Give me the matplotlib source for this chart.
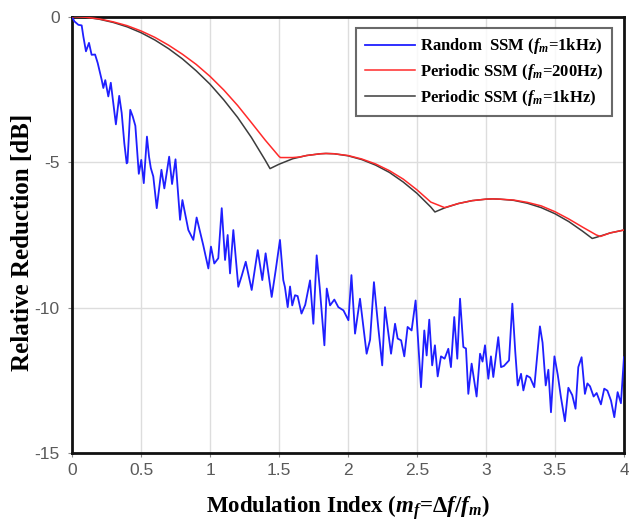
import matplotlib
matplotlib.use("Agg")
import matplotlib.pyplot as plt

plt.rcParams['font.family'] = ['Liberation Sans', 'DejaVu Sans']
plt.rcParams['mathtext.fontset'] = 'custom'
plt.rcParams['mathtext.rm'] = 'Liberation Serif:bold'
plt.rcParams['mathtext.it'] = 'Liberation Serif:italic:bold'
plt.rcParams['mathtext.bf'] = 'Liberation Serif:bold'

# Periodic SSM (fm = 1 kHz) -- black
black_x = [0.0, 0.1, 0.2, 0.3, 0.4, 0.5, 0.6, 0.7, 0.8, 0.9, 1.0, 1.1, 1.2, 1.3, 1.4, 1.435,
           1.5, 1.6, 1.7, 1.8, 1.84, 1.9, 2.0, 2.1, 2.2, 2.3, 2.4, 2.5, 2.6, 2.63,
           2.7, 2.8, 2.9, 3.0, 3.05, 3.1, 3.2, 3.3, 3.4, 3.5, 3.6, 3.7, 3.77, 3.8, 3.9, 4.0]
black_y = [0.0, -0.02, -0.09, -0.20, -0.35, -0.55, -0.80, -1.10, -1.45, -1.86, -2.32, -2.86, -3.46, -4.15, -4.93, -5.22,
           -5.07, -4.88, -4.77, -4.71, -4.70, -4.71, -4.78, -4.91, -5.10, -5.35, -5.68, -6.07, -6.54, -6.71,
           -6.57, -6.42, -6.32, -6.27, -6.26, -6.27, -6.31, -6.41, -6.56, -6.77, -7.04, -7.37, -7.62, -7.58, -7.43, -7.33]

# Periodic SSM (fm = 200 Hz) -- red
red_x = [0.0, 0.1, 0.2, 0.3, 0.4, 0.5, 0.6, 0.7, 0.8, 0.9, 1.0, 1.1, 1.2, 1.3, 1.4, 1.5, 1.51,
         1.6, 1.65, 1.7, 1.8, 1.84, 1.9, 2.0, 2.1, 2.2, 2.3, 2.4, 2.5, 2.6, 2.7,
         2.8, 2.9, 3.0, 3.05, 3.1, 3.2, 3.3, 3.4, 3.5, 3.6, 3.7, 3.8, 3.83, 3.9, 4.0]
red_y = [0.0, -0.02, -0.08, -0.18, -0.31, -0.49, -0.71, -0.98, -1.29, -1.64, -2.05, -2.52, -3.05, -3.64, -4.24, -4.80, -4.84,
         -4.84, -4.82, -4.77, -4.71, -4.70, -4.71, -4.77, -4.89, -5.06, -5.29, -5.58, -5.95, -6.37, -6.56,
         -6.42, -6.32, -6.27, -6.26, -6.27, -6.30, -6.38, -6.50, -6.70, -6.95, -7.23, -7.50, -7.55, -7.43, -7.33]

# Random SSM (fm = 1 kHz) -- blue
blue_x = [0.0, 0.017, 0.046, 0.07, 0.082, 0.101, 0.123, 0.142, 0.167, 0.186, 0.215, 0.227, 0.241, 0.263, 0.281,
          0.299, 0.318, 0.342, 0.360, 0.379, 0.396, 0.402, 0.422, 0.440, 0.459, 0.484, 0.502, 0.520, 0.543,
          0.558, 0.571, 0.589, 0.614, 0.648, 0.669, 0.704, 0.725, 0.750, 0.783, 0.80, 0.843, 0.879, 0.903,
          0.951, 0.988, 1.007, 1.031, 1.06, 1.085, 1.109, 1.128, 1.145, 1.169, 1.205, 1.23, 1.259, 1.302,
          1.346, 1.379, 1.403, 1.447, 1.476, 1.507, 1.531, 1.543, 1.563, 1.580, 1.596, 1.616, 1.635, 1.663,
          1.690, 1.725, 1.749, 1.773, 1.795, 1.829, 1.846, 1.870, 1.901, 1.930, 1.967, 2.003, 2.025, 2.051,
          2.087, 2.135, 2.160, 2.188, 2.219, 2.248, 2.268, 2.312, 2.341, 2.360, 2.385, 2.408, 2.432, 2.461,
          2.490, 2.529, 2.553, 2.570, 2.589, 2.610, 2.630, 2.650, 2.674, 2.70, 2.727, 2.746, 2.770, 2.792,
          2.812, 2.836, 2.855, 2.872, 2.896, 2.932, 2.957, 2.975, 2.993, 3.017, 3.036, 3.053, 3.089, 3.109,
          3.13, 3.167, 3.191, 3.212, 3.230, 3.254, 3.271, 3.295, 3.32, 3.350, 3.391, 3.41, 3.433, 3.452,
          3.471, 3.496, 3.52, 3.543, 3.572, 3.597, 3.625, 3.649, 3.669, 3.693, 3.717, 3.735, 3.754, 3.78,
          3.802, 3.833, 3.857, 3.88, 3.906, 3.930, 3.954, 3.978, 4.0]
blue_y = [0.0, -0.16, -0.28, -0.30, -0.68, -1.19, -0.90, -1.31, -1.30, -1.59, -2.17, -2.45, -2.18, -2.74, -2.27,
          -2.97, -3.70, -2.72, -3.31, -4.35, -5.04, -5.00, -3.20, -3.43, -3.75, -5.40, -4.92, -5.72, -4.12,
          -4.81, -5.20, -5.49, -6.58, -5.26, -5.90, -4.81, -5.75, -4.90, -6.98, -6.30, -7.33, -7.67, -6.90,
          -7.85, -8.65, -7.90, -8.48, -8.30, -6.58, -8.36, -7.50, -8.82, -7.33, -9.28, -8.90, -8.42, -9.39,
          -8.02, -9.05, -8.13, -9.63, -8.71, -7.67, -9.05, -9.29, -9.98, -9.27, -9.92, -9.57, -9.60, -10.20,
          -9.90, -9.06, -10.55, -8.20, -9.30, -11.29, -9.34, -9.92, -9.72, -9.98, -10.09, -10.43, -8.88, -10.89,
          -9.69, -11.58, -11.10, -9.12, -10.66, -11.98, -9.98, -11.58, -10.55, -11.06, -11.12, -11.67, -10.66, -10.78,
          -9.75, -12.73, -10.78, -11.64, -10.41, -11.98, -11.29, -12.36, -11.67, -11.75, -11.41, -12.04, -10.32, -11.75,
          -9.69, -11.35, -11.40, -12.96, -11.92, -13.05, -11.58, -11.85, -11.29, -12.44, -11.67, -12.38, -11.01, -12.04,
          -12.00, -11.81, -9.86, -11.50, -12.67, -12.27, -12.84, -12.33, -12.40, -12.73, -10.64, -11.20, -12.67, -12.13,
          -13.59, -11.67, -12.30, -13.07, -13.90, -12.75, -13.00, -13.47, -12.04, -11.70, -12.96, -12.60, -12.70, -13.05,
          -12.93, -13.32, -12.78, -12.85, -13.19, -13.76, -12.90, -13.28, -11.70]

x_ticks = [0, 0.5, 1, 1.5, 2, 2.5, 3, 3.5, 4]
x_tick_labels = ['0', '0.5', '1', '1.5', '2', '2.5', '3', '3.5', '4']
y_ticks = [0, -5, -10, -15]
y_tick_labels = ['0', '-5', '-10', '-15']

labels = ['Random  SSM ($f_m$=1kHz)', 'Periodic SSM ($f_m$=200Hz)', 'Periodic SSM ($f_m$=1kHz)']

fig = plt.figure(figsize=(6.29, 5.21), dpi=100)
ax = fig.add_axes([0.1145, 0.130, 0.8775, 0.838])

ax.plot(blue_x, blue_y, color='#1f1fff', lw=1.3, label=labels[0], zorder=3)
ax.plot(red_x, red_y, color='#ff2a2a', lw=1.1, label=labels[1], zorder=4)
ax.plot(black_x, black_y, color='#3c3c3c', lw=1.1, label=labels[2], zorder=3)

ax.set_xlim(0, 4)
ax.set_ylim(-15, 0)
ax.set_xticks(x_ticks)
ax.set_xticklabels(x_tick_labels)
ax.set_yticks(y_ticks)
ax.set_yticklabels(y_tick_labels)
ax.tick_params(axis='both', labelsize=12.5, labelcolor='#5a5a5a', color='#888888',
               direction='out', length=3, width=0.8)
ax.tick_params(axis='x', pad=4)
ax.tick_params(axis='y', pad=6)
ax.grid(True, color='#dddddd', lw=1.0)
ax.set_axisbelow(True)
for s in ax.spines.values():
    s.set_linewidth(2.0)
    s.set_color('#111111')

ax.set_xlabel(r'Modulation Index ($m_f$=$\Delta f/f_m$)', fontsize=16.5, fontweight='bold',
              family='Liberation Serif', labelpad=11)
ax.set_ylabel('Relative Reduction [dB]', fontsize=18, fontweight='bold',
              family='Liberation Serif')
ax.yaxis.set_label_coords(-0.068, 0.482)

leg = ax.legend(loc='upper right', bbox_to_anchor=(0.978, 0.974), borderaxespad=0,
                prop={'family': 'Liberation Serif', 'weight': 'bold', 'size': 12},
                frameon=True, fancybox=False, handlelength=3.0, handletextpad=0.3,
                labelspacing=0.35, borderpad=0.5)
leg.get_frame().set_edgecolor('#444444')
leg.get_frame().set_linewidth(1.5)

fig.savefig('out.png', dpi=100, facecolor='white')
